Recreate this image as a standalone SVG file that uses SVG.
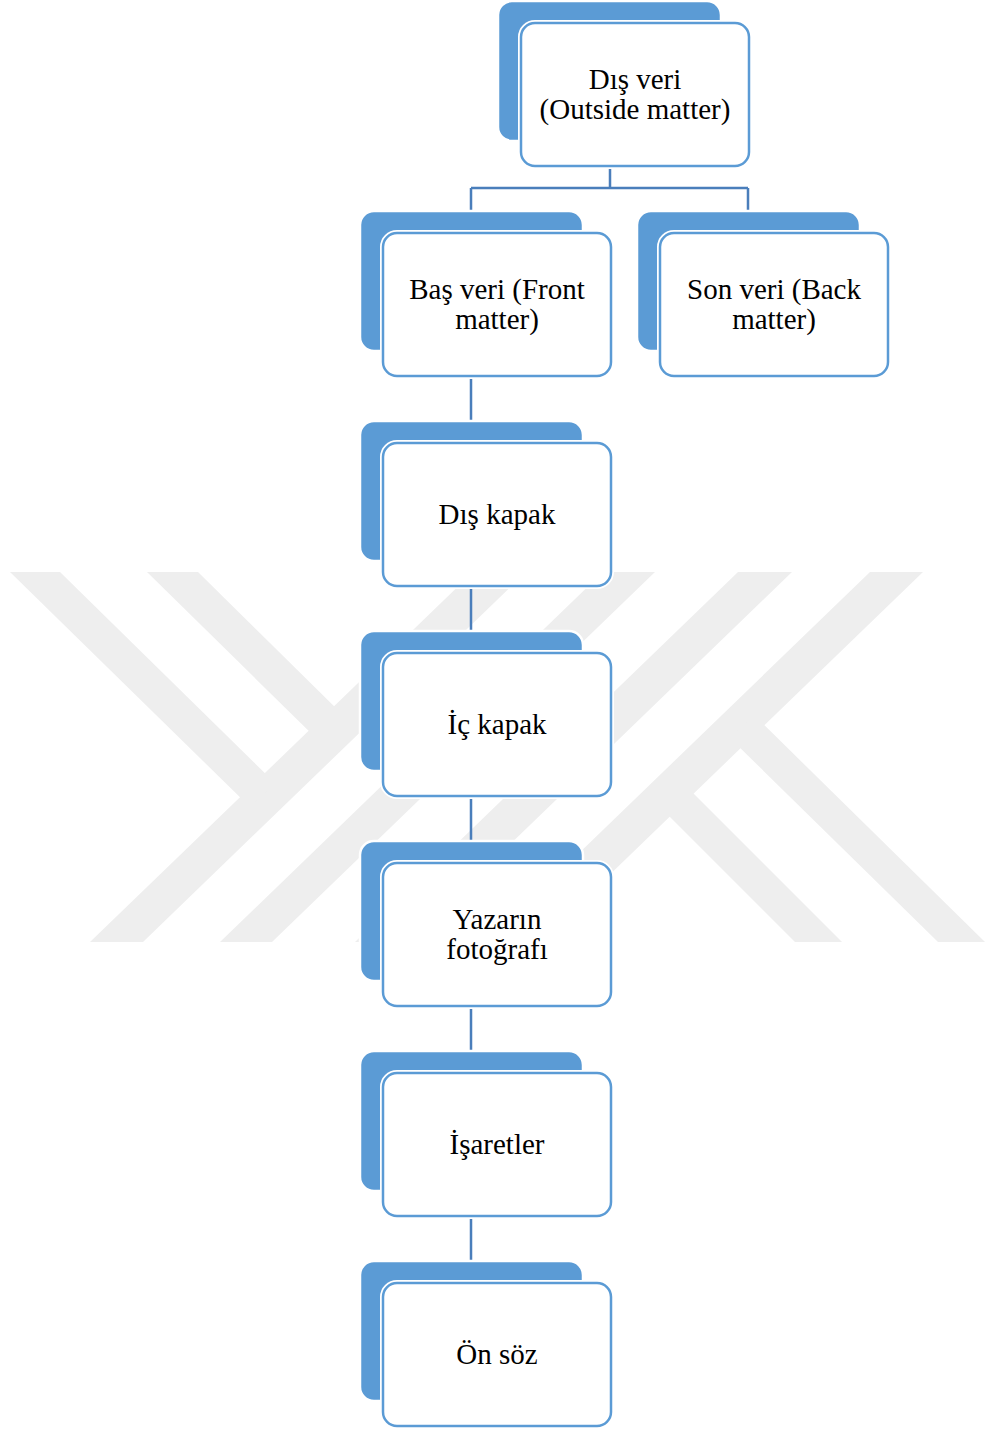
<svg xmlns="http://www.w3.org/2000/svg" width="985" height="1430" viewBox="0 0 985 1430">
<style>
.wm{fill:#eeeeee}
.back{fill:#5B9BD5;stroke:#ffffff;stroke-width:2.5}
.halo{fill:#ffffff;stroke:#ffffff;stroke-width:6}
.front{fill:#ffffff;stroke:#5B9BD5;stroke-width:2.5}
.conn{fill:none;stroke:#4A7EBB;stroke-width:2.5}
text{font-family:"Liberation Serif","Times New Roman",serif;font-size:29px;fill:#000000;text-anchor:middle}
</style>
<defs>
<clipPath id="wmclip"><rect x="0" y="572" width="985" height="370"/></clipPath>
</defs>
<rect x="0" y="0" width="985" height="1430" fill="#ffffff"/>
<g id="watermark" clip-path="url(#wmclip)">
<polygon class="wm" points="90,942 143,942 526,572 473,572"/>
<polygon class="wm" points="10,572 60,572 275,783 250,807"/>
<polygon class="wm" points="147,572 198,572 344,716 319,741"/>
<polygon class="wm" points="220,942 272,942 655,572 603,572"/>
<polygon class="wm" points="355,942 409,942 792,572 738,572"/>
<polygon class="wm" points="487,942 540,942 923,572 870,572"/>
<polygon class="wm" points="754,715 985,942 938,942 730,738"/>
<polygon class="wm" points="683,783 842,942 795,942 660,807"/>
</g>
<g id="connectors">
<path class="conn" d="M610,166 V188 M471,188 H748 M471,188 V211 M748,188 V211"/>
<path class="conn" d="M471,376 V421 M471,586 V631 M471,796 V841 M471,1006 V1051 M471,1216 V1261"/>
</g>
<g id="node-dis-veri">
<rect class="back" x="498" y="1" width="223" height="140" rx="14"/>
<rect class="halo" x="521" y="23" width="228" height="143" rx="14"/>
<rect class="front" x="521" y="23" width="228" height="143" rx="14"/>
<text x="635" y="89">Dış veri</text>
<text x="635" y="119">(Outside matter)</text>
</g>
<g id="node-bas-veri">
<rect class="back" x="360" y="211" width="223" height="140" rx="14"/>
<rect class="halo" x="383" y="233" width="228" height="143" rx="14"/>
<rect class="front" x="383" y="233" width="228" height="143" rx="14"/>
<text x="497" y="299">Baş veri (Front</text>
<text x="497" y="329">matter)</text>
</g>
<g id="node-son-veri">
<rect class="back" x="637" y="211" width="223" height="140" rx="14"/>
<rect class="halo" x="660" y="233" width="228" height="143" rx="14"/>
<rect class="front" x="660" y="233" width="228" height="143" rx="14"/>
<text x="774" y="299">Son veri (Back</text>
<text x="774" y="329">matter)</text>
</g>
<g id="node-dis-kapak">
<rect class="back" x="360" y="421" width="223" height="140" rx="14"/>
<rect class="halo" x="383" y="443" width="228" height="143" rx="14"/>
<rect class="front" x="383" y="443" width="228" height="143" rx="14"/>
<text x="497" y="524">Dış kapak</text>
</g>
<g id="node-ic-kapak">
<rect class="back" x="360" y="631" width="223" height="140" rx="14"/>
<rect class="halo" x="383" y="653" width="228" height="143" rx="14"/>
<rect class="front" x="383" y="653" width="228" height="143" rx="14"/>
<text x="497" y="734">İç kapak</text>
</g>
<g id="node-yazarin-fotografi">
<rect class="back" x="360" y="841" width="223" height="140" rx="14"/>
<rect class="halo" x="383" y="863" width="228" height="143" rx="14"/>
<rect class="front" x="383" y="863" width="228" height="143" rx="14"/>
<text x="497" y="929">Yazarın</text>
<text x="497" y="959">fotoğrafı</text>
</g>
<g id="node-isaretler">
<rect class="back" x="360" y="1051" width="223" height="140" rx="14"/>
<rect class="halo" x="383" y="1073" width="228" height="143" rx="14"/>
<rect class="front" x="383" y="1073" width="228" height="143" rx="14"/>
<text x="497" y="1154">İşaretler</text>
</g>
<g id="node-on-soz">
<rect class="back" x="360" y="1261" width="223" height="140" rx="14"/>
<rect class="halo" x="383" y="1283" width="228" height="143" rx="14"/>
<rect class="front" x="383" y="1283" width="228" height="143" rx="14"/>
<text x="497" y="1364">Ön söz</text>
</g>
</svg>
